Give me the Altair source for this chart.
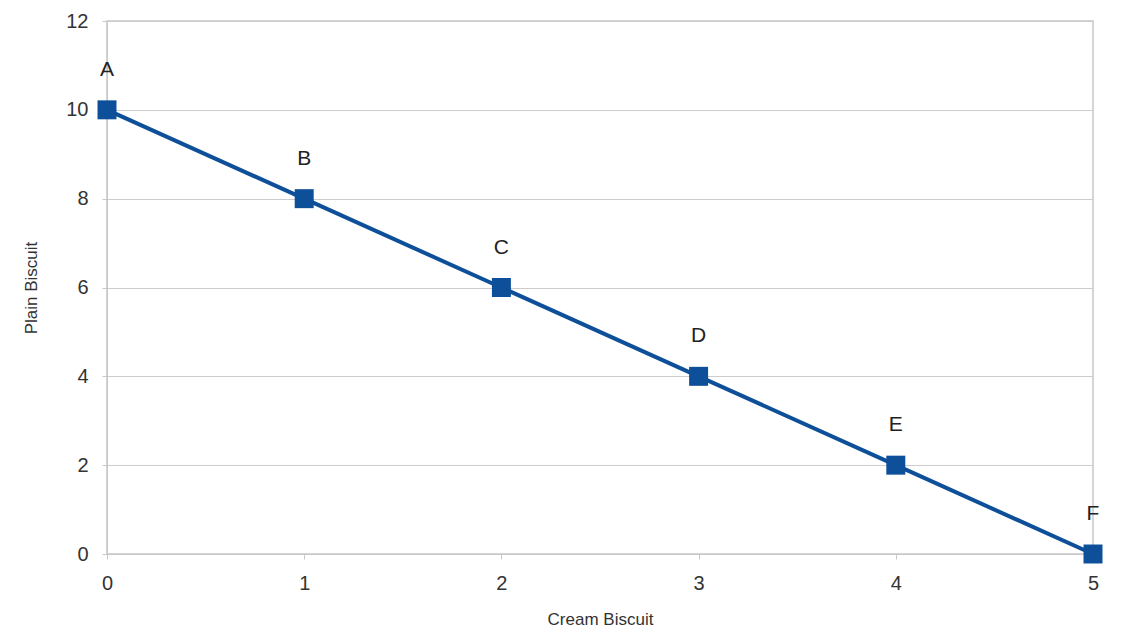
import altair as alt
import pandas as pd

cream = [0, 1, 2, 3, 4, 5]
plain = [10, 8, 6, 4, 2, 0]
labels = ["A", "B", "C", "D", "E", "F"]

df = pd.DataFrame({"cream": cream, "plain": plain, "label": labels})

x = alt.X("cream:Q", title="Cream Biscuit",
          scale=alt.Scale(domain=[0, 5], nice=False),
          axis=alt.Axis(values=[0, 1, 2, 3, 4, 5], format="d", grid=False, labelFlush=False,
                        labelFontSize=20, titleFontSize=17, titleFontWeight="normal",
                        labelPadding=14, titlePadding=18, tickSize=5,
                        domainColor="#c8c8c8", tickColor="#c8c8c8",
                        labelColor="#333333", titleColor="#333333",
                        labelFont="Liberation Sans", titleFont="Liberation Sans"))
y = alt.Y("plain:Q", title="Plain Biscuit",
          scale=alt.Scale(domain=[0, 12], nice=False),
          axis=alt.Axis(values=[0, 2, 4, 6, 8, 10, 12], grid=True, gridColor="#cccccc",
                        labelFlush=False,
                        labelFontSize=20, titleFontSize=17, titleFontWeight="normal",
                        labelPadding=14, titlePadding=25, tickSize=5,
                        domainColor="#c8c8c8", tickColor="#c8c8c8",
                        labelColor="#333333", titleColor="#333333",
                        labelFont="Liberation Sans", titleFont="Liberation Sans"))

base = alt.Chart(df)
line = base.mark_line(color="#0d4f98", strokeWidth=4).encode(x=x, y=y)
pts = base.mark_square(color="#0d4f98", size=360, opacity=1).encode(x=x, y=y)
txt = base.mark_text(dy=-40, fontSize=21, font="Liberation Sans", color="#222222").encode(
    x=x, y=y, text="label:N")

chart = (line + pts + txt).properties(
    width=986, height=533,
    padding={"left": 99, "top": 13, "right": 30, "bottom": 75},
    autosize=alt.AutoSizeParams(type="none"),
).configure_view(stroke="#c8c8c8", strokeWidth=1.5)

chart.save("out.html", embed_options={"renderer": "svg", "actions": False})
